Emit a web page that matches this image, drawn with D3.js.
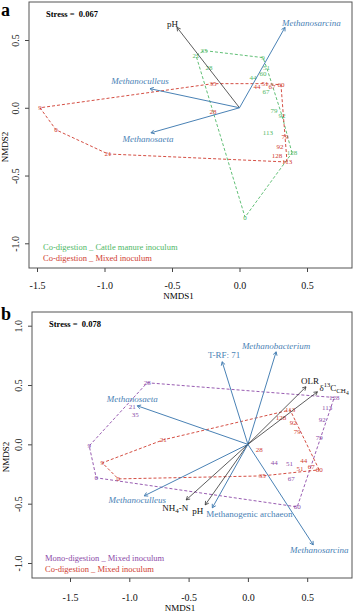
<!DOCTYPE html>
<html>
<head>
<meta charset="utf-8">
<script src="https://cdn.jsdelivr.net/npm/d3@7"></script>
<style>
body { margin: 0; background: #fff; }
svg { font-family: "Liberation Serif", "DejaVu Serif", serif; }
</style>
</head>
<body>
<div id="chart-area"></div>
<script>
// NMDS ordination, two panels

// panel a - site scores [day, NMDS1, NMDS2]
let aCattle = [
    ["0", 0.041, -0.807], ["9", 0.174, 0.370], ["21", -0.322, 0.385],
    ["28", -0.226, 0.296], ["35", -0.263, 0.422], ["44", 0.100, 0.222],
    ["51", 0.200, 0.300], ["60", 0.174, 0.250], ["67", 0.196, 0.119],
    ["79", 0.256, -0.022], ["92", 0.315, -0.059], ["113", 0.211, -0.185],
    ["128", 0.389, -0.333]
];
let aMixed = [
    ["0", -1.359, -0.163], ["9", -1.478, 0.000], ["21", -0.974, -0.341],
    ["28", -0.196, -0.030], ["35", -0.196, 0.178], ["44", 0.130, 0.156],
    ["51", 0.189, 0.178], ["60", 0.307, 0.170], ["67", 0.241, 0.156],
    ["79", 0.337, -0.215], ["92", 0.300, -0.289], ["113", 0.352, -0.400],
    ["128", 0.278, -0.356]
];
// panel a - fitted vectors [name, NMDS1, NMDS2, kind]
let aVectors = [
    ["pH", -0.463, 0.593, "env"],
    ["Methanosarcina", 0.337, 0.593, "taxon"],
    ["Methanoculleus", -0.663, 0.141, "taxon"],
    ["Methanosaeta", -0.656, -0.185, "taxon"]
];

// panel b
let bMono = [
    ["0", -1.279, -0.282], ["9", -1.338, -0.013], ["21", -0.975, 0.316],
    ["28", -0.849, 0.519], ["35", -0.950, 0.249], ["44", 0.222, -0.156],
    ["51", 0.350, -0.165], ["60", 0.416, -0.527], ["67", 0.365, -0.291],
    ["79", 0.601, 0.055], ["92", 0.626, 0.207], ["113", 0.669, 0.308],
    ["128", 0.728, 0.395]
];
let bMixed = [
    ["0", -1.093, -0.291], ["9", -1.228, -0.156], ["21", -0.714, 0.038],
    ["28", 0.095, -0.046], ["35", 0.121, -0.266], ["44", 0.470, -0.140],
    ["51", 0.440, -0.205], ["60", 0.601, -0.215], ["67", 0.534, -0.190],
    ["79", 0.416, 0.105], ["92", 0.382, 0.181], ["113", 0.356, 0.290],
    ["128", 0.280, 0.228]
];
let bVectors = [
    ["T-RF: 71", -0.217, 0.696, "trf"],
    ["Methanobacterium", 0.238, 0.780, "taxon"],
    ["OLR", 0.490, 0.485, "env"],
    ["δ13CCH4", 0.586, 0.443, "env"],
    ["Methanosaeta", -0.933, 0.325, "taxon"],
    ["Methanoculleus", -0.874, -0.434, "taxon"],
    ["NH4-N", -0.520, -0.468, "env"],
    ["pH", -0.360, -0.510, "env"],
    ["Methanogenic  archaeon", -0.300, -0.535, "trf"],
    ["Methanosarcina", 0.551, -0.847, "taxon"]
];

let xTicks = [-1.5, -1.0, -0.5, 0.0, 0.5];
let yTicksA = [-1.0, -0.5, 0.0, 0.5];
let yTicksB = [-1.0, -0.5, 0.0, 0.5, 1.0];

// colours
let green = "#4fb866",
    red = "#cf3b2f",
    purple = "#8c4aa8",
    blue = "#4a82b5",
    dark = "#333";

let svg = d3.select("#chart-area").append("svg")
    .attr("width", 354)
    .attr("height", 612);

// label placement next to arrow tips (pixels)
let nudgeA = {
    "pH": [1, 0, "end"],
    "Methanosarcina": [-3, -1, "start"],
    "Methanoculleus": [-10, -5, "middle"],
    "Methanosaeta": [-3, 9, "middle"]
};
let nudgeB = {
    "T-RF: 71": [2, -4, "middle"],
    "Methanobacterium": [0, -3, "middle"],
    "OLR": [-5, -3, "start"],
    "δ13CCH4": [2, -1, "start"],
    "Methanosaeta": [-5, -4, "middle"],
    "Methanoculleus": [-7, 7, "middle"],
    "NH4-N": [2, 11, "end"],
    "pH": [-2, 9, "end"],
    "Methanogenic  archaeon": [-6, 9, "start"],
    "Methanosarcina": [6, 8, "middle"]
};

// super / subscripts
let richLabels = {
    "δ13CCH4": [["δ", 0], ["13", -1], ["C", 0], ["CH", 1], ["4", 2]],
    "NH4-N": [["NH", 0], ["4", 1], ["-N", 0]]
};
let levelShift = {"-1": -3.5, "0": 0, "1": 2.5, "2": 4.5};
let levelSize = {"-1": 6.5, "0": 9, "1": 7, "2": 5.5};

drawPanel({
    letter: "a", stress: "Stress =  0.067",
    box: [29, 2, 352, 268],
    x: d3.scaleLinear().domain([-1.5, 0.5]).range([37, 307]),
    y: d3.scaleLinear().domain([-1, 0.5]).range([243.3, 40]),
    yTicks: yTicksA,
    groups: [[aCattle, green], [aMixed, red]],
    vectors: aVectors, nudge: nudgeA,
    legend: [["Co-digestion _ Cattle manure inoculum", green], ["Co-digestion _ Mixed inoculum", red]],
    legendPos: [43, 250],
    letterY: 16, stressY: 17,
    xTickPad: 10, xLabelY: 299, yLabelX: 8
});

drawPanel({
    letter: "b", stress: "Stress =  0.078",
    box: [32, 312, 352, 578],
    x: d3.scaleLinear().domain([-1.5, 0.5]).range([70, 307.2]),
    y: d3.scaleLinear().domain([-1, 1]).range([563, 325.7]),
    yTicks: yTicksB,
    groups: [[bMono, purple], [bMixed, red]],
    vectors: bVectors, nudge: nudgeB,
    legend: [["Mono-digestion _ Mixed inoculum", purple], ["Co-digestion _ Mixed inoculum", red]],
    legendPos: [45, 561],
    letterY: 320, stressY: 327,
    xTickPad: 12, xLabelY: 611, yLabelX: 9
});

function arrowPath(x0, y0, x1, y1) {
    let len = 4, ang = Math.PI / 6;
    let a = Math.atan2(y1 - y0, x1 - x0);
    return "M" + x0 + "," + y0 + "L" + x1 + "," + y1 +
        "M" + (x1 - len * Math.cos(a - ang)) + "," + (y1 - len * Math.sin(a - ang)) +
        "L" + x1 + "," + y1 +
        "L" + (x1 - len * Math.cos(a + ang)) + "," + (y1 - len * Math.sin(a + ang));
}

function drawPanel(p) {
    let g = svg.append("g");
    let [bx0, by0, bx1, by1] = p.box;
    let x = p.x, y = p.y;

    // axes
    let xAxis = d3.axisBottom(x).tickValues(xTicks).tickSize(4)
        .tickPadding(p.xTickPad).tickFormat(d => d.toFixed(1));
    let yAxis = d3.axisLeft(y).tickValues(p.yTicks).tickSize(4)
        .tickFormat(d => d.toFixed(1));

    let gx = g.append("g")
        .attr("transform", "translate(0," + by1 + ")")
        .call(xAxis);
    let gy = g.append("g")
        .attr("transform", "translate(" + bx0 + ",0)")
        .call(yAxis);
    [gx, gy].forEach(ax => {
        ax.select(".domain").remove();
        ax.selectAll("line").attr("stroke", "#444");
        ax.selectAll("text").attr("fill", "#111").style("font-size", "10px")
            .style("font-family", '"Liberation Serif", serif');
    });
    gy.selectAll("text")
        .attr("transform", "rotate(-90)")
        .attr("x", 0).attr("y", -10).attr("dy", 0)
        .style("text-anchor", "middle");

    g.append("rect")
        .attr("x", bx0).attr("y", by0)
        .attr("width", bx1 - bx0).attr("height", by1 - by0)
        .attr("fill", "none").attr("stroke", "#555").attr("stroke-width", 1);

    g.append("text")
        .attr("x", (bx0 + bx1) / 2 - 12).attr("y", p.xLabelY)
        .attr("text-anchor", "middle").style("font-size", "9px")
        .text("NMDS1");
    g.append("text")
        .attr("transform", "translate(" + p.yLabelX + "," + ((by0 + by1) / 2 + 12) + ") rotate(-90)")
        .attr("text-anchor", "middle").style("font-size", "9px")
        .text("NMDS2");

    // hulls + site labels
    p.groups.forEach(([pts, col]) => {
        let px = pts.map(d => [x(d[1]), y(d[2])]);
        let hull = d3.polygonHull(px);
        g.append("path")
            .attr("d", "M" + hull.join("L") + "Z")
            .attr("fill", "none")
            .attr("stroke", col)
            .attr("stroke-width", 0.9)
            .attr("stroke-dasharray", "3,2");
        g.selectAll(null)
            .data(pts)
            .enter().append("text")
            .attr("x", d => x(d[1]))
            .attr("y", d => y(d[2]))
            .attr("dy", "0.35em")
            .attr("text-anchor", "middle")
            .attr("fill", col)
            .style("font-size", "7px")
            .text(d => d[0]);
    });

    // fitted vectors
    let x0 = x(0), y0 = y(0);
    p.vectors.forEach(v => {
        let col = v[3] === "env" ? dark : blue;
        let x1 = x(v[1]), y1 = y(v[2]);
        g.append("path")
            .attr("d", arrowPath(x0, y0, x1, y1))
            .attr("fill", "none")
            .attr("stroke", col)
            .attr("stroke-width", v[3] === "env" ? 0.8 : 1);

        let n = p.nudge[v[0]];
        let t = g.append("text")
            .attr("x", x1 + n[0])
            .attr("y", y1 + n[1])
            .attr("text-anchor", n[2])
            .attr("fill", v[3] === "env" ? "#111" : blue)
            .style("font-size", "9px")
            .style("font-style", v[3] === "taxon" ? "italic" : "normal");
        if (richLabels[v[0]]) {
            let prev = 0;
            richLabels[v[0]].forEach(([s, lv]) => {
                let sh = levelShift[lv];
                t.append("tspan")
                    .attr("dy", sh - prev)
                    .style("font-size", levelSize[lv] + "px")
                    .text(s);
                prev = sh;
            });
        } else {
            t.text(v[0]);
        }
    });

    // legend
    p.legend.forEach((l, i) => {
        g.append("text")
            .attr("x", p.legendPos[0])
            .attr("y", p.legendPos[1] + i * 10.5)
            .attr("fill", l[1])
            .style("font-size", "8.5px")
            .style("white-space", "pre")
            .text(l[0]);
    });

    g.append("text")
        .attr("x", 1).attr("y", p.letterY)
        .style("font-size", "18px").style("font-weight", "bold")
        .text(p.letter);
    g.append("text")
        .attr("x", bx0 + 17).attr("y", p.stressY)
        .style("font-size", "8.5px").style("font-weight", "bold")
        .style("white-space", "pre")
        .text(p.stress);
}
</script>
</body>
</html>
